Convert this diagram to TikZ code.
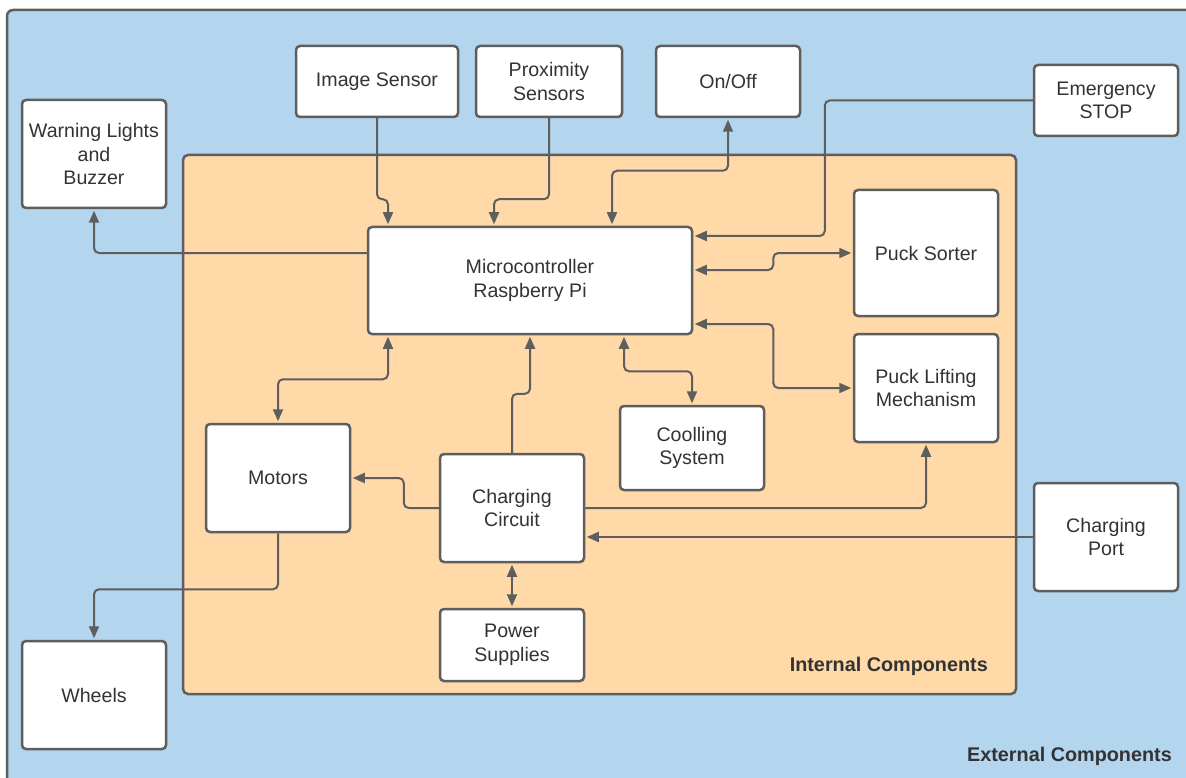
\documentclass[tikz,border=0pt]{standalone}
\usepackage{fontspec}
\setmainfont{Liberation Sans}
\usetikzlibrary{arrows.meta}
\definecolor{extblue}{HTML}{B3D5EE}
\definecolor{intorange}{HTML}{FFD9A8}
\definecolor{edge}{HTML}{5E5E5E}
\definecolor{txt}{HTML}{333333}
\tikzset{
  blk/.style={draw=edge, line width=2.5pt, fill=white, rounded corners=4pt,
    inner sep=0pt, align=center, text=txt,
    font=\fontsize{19.6}{23.5}\selectfont},
  conn/.style={draw=edge, line width=2pt, rounded corners=5pt},
  tip/.style={-{Triangle[length=12pt,width=10pt]}, shorten >=1.5pt},
  tips/.style={{Triangle[length=12pt,width=10pt]}-{Triangle[length=12pt,width=10pt]}, shorten >=1.5pt, shorten <=1.5pt},
  grp/.style={text=txt, font=\fontsize{19.8}{22}\selectfont\bfseries, inner sep=0pt}
}
\begin{document}
\begin{tikzpicture}[x=1pt,y=-1pt]
\useasboundingbox (0,0) rectangle (1186,778);
\clip (0,0) rectangle (1186,778);
% frames
\draw[draw=edge, line width=2.5pt, fill=extblue, rounded corners=6pt] (7,10) rectangle (1200,795);
\draw[draw=edge, line width=2.5pt, fill=intorange, rounded corners=5pt] (183,155) rectangle (1016,694);
\node[grp, anchor=east] (intlab) at (988,666) {Internal Components};
\node[grp, anchor=east] (extlab) at (1172,756) {External Components};
% blocks
\node[blk, minimum width=162pt, minimum height=71pt] (img) at (377,81.5) {Image Sensor};
\node[blk, minimum width=146pt, minimum height=71pt] (prox) at (549,81.5) {Proximity\\Sensors};
\node[blk, minimum width=144pt, minimum height=71pt] (onoff) at (728,81.5) {On/Off};
\node[blk, minimum width=144pt, minimum height=71pt] (estop) at (1106,100.5) {Emergency\\STOP};
\node[blk, minimum width=144pt, minimum height=108pt] (warn) at (94,154) {Warning Lights\\and\\Buzzer};
\node[blk, minimum width=324pt, minimum height=107pt] (mc) at (530,280.5) {Microcontroller\\Raspberry Pi};
\node[blk, minimum width=144pt, minimum height=126pt] (sorter) at (926,253) {Puck Sorter};
\node[blk, minimum width=144pt, minimum height=108pt] (lift) at (926,388) {Puck Lifting\\Mechanism};
\node[blk, minimum width=144pt, minimum height=84pt] (cool) at (692,448) {Coolling\\System};
\node[blk, minimum width=144pt, minimum height=108pt] (motors) at (278,478) {Motors};
\node[blk, minimum width=144pt, minimum height=108pt] (cc) at (512,508) {Charging\\Circuit};
\node[blk, minimum width=144pt, minimum height=72pt] (ps) at (512,645) {Power\\Supplies};
\node[blk, minimum width=144pt, minimum height=108pt] (cport) at (1106,537) {Charging\\Port};
\node[blk, minimum width=144pt, minimum height=108pt] (wheels) at (94,695) {Wheels};
% connectors
\draw[conn, tip] (img.south) -- ++(0,81) -| ([xshift=-142pt]mc.north);
\draw[conn, tip] (prox.south) -- ++(0,81) -| ([xshift=-36pt]mc.north);
\draw[conn, tips] ([xshift=82pt]mc.north) -- ++(0,-55) -| (onoff.south);
\draw[conn, tip] (estop.west) -- ++(-208,0) |- ([yshift=44.5pt]mc.east);
\draw[conn, tips] ([yshift=10.5pt]mc.east) -- ++(80,0) |- (sorter.west);
\draw[conn, tips] ([yshift=-43.5pt]mc.east) -- ++(80,0) |- (lift.west);
\draw[conn, tips] ([xshift=94pt]mc.south) -- ++(0,36) -| (cool.north);
\draw[conn, tips] ([xshift=-142pt]mc.south) -- ++(0,44) -| (motors.north);
\draw[conn, tip] (cc.north) -- ++(0,-59) -| (mc.south);
\draw[conn, tip] (cc.west) -- ++(-35,0) |- (motors.east);
\draw[conn, tip] (cc.east) -| (lift.south);
\draw[conn, tip] (cport.west) -- (cc.east |- cport.west);
\draw[conn, tips] (cc.south) -- (ps.north);
\draw[conn, tip] (motors.south) -- ++(0,56) -| (wheels.north);
\draw[conn, tip] ([yshift=27.5pt]mc.west) -| (warn.south);
\end{tikzpicture}
\end{document}
